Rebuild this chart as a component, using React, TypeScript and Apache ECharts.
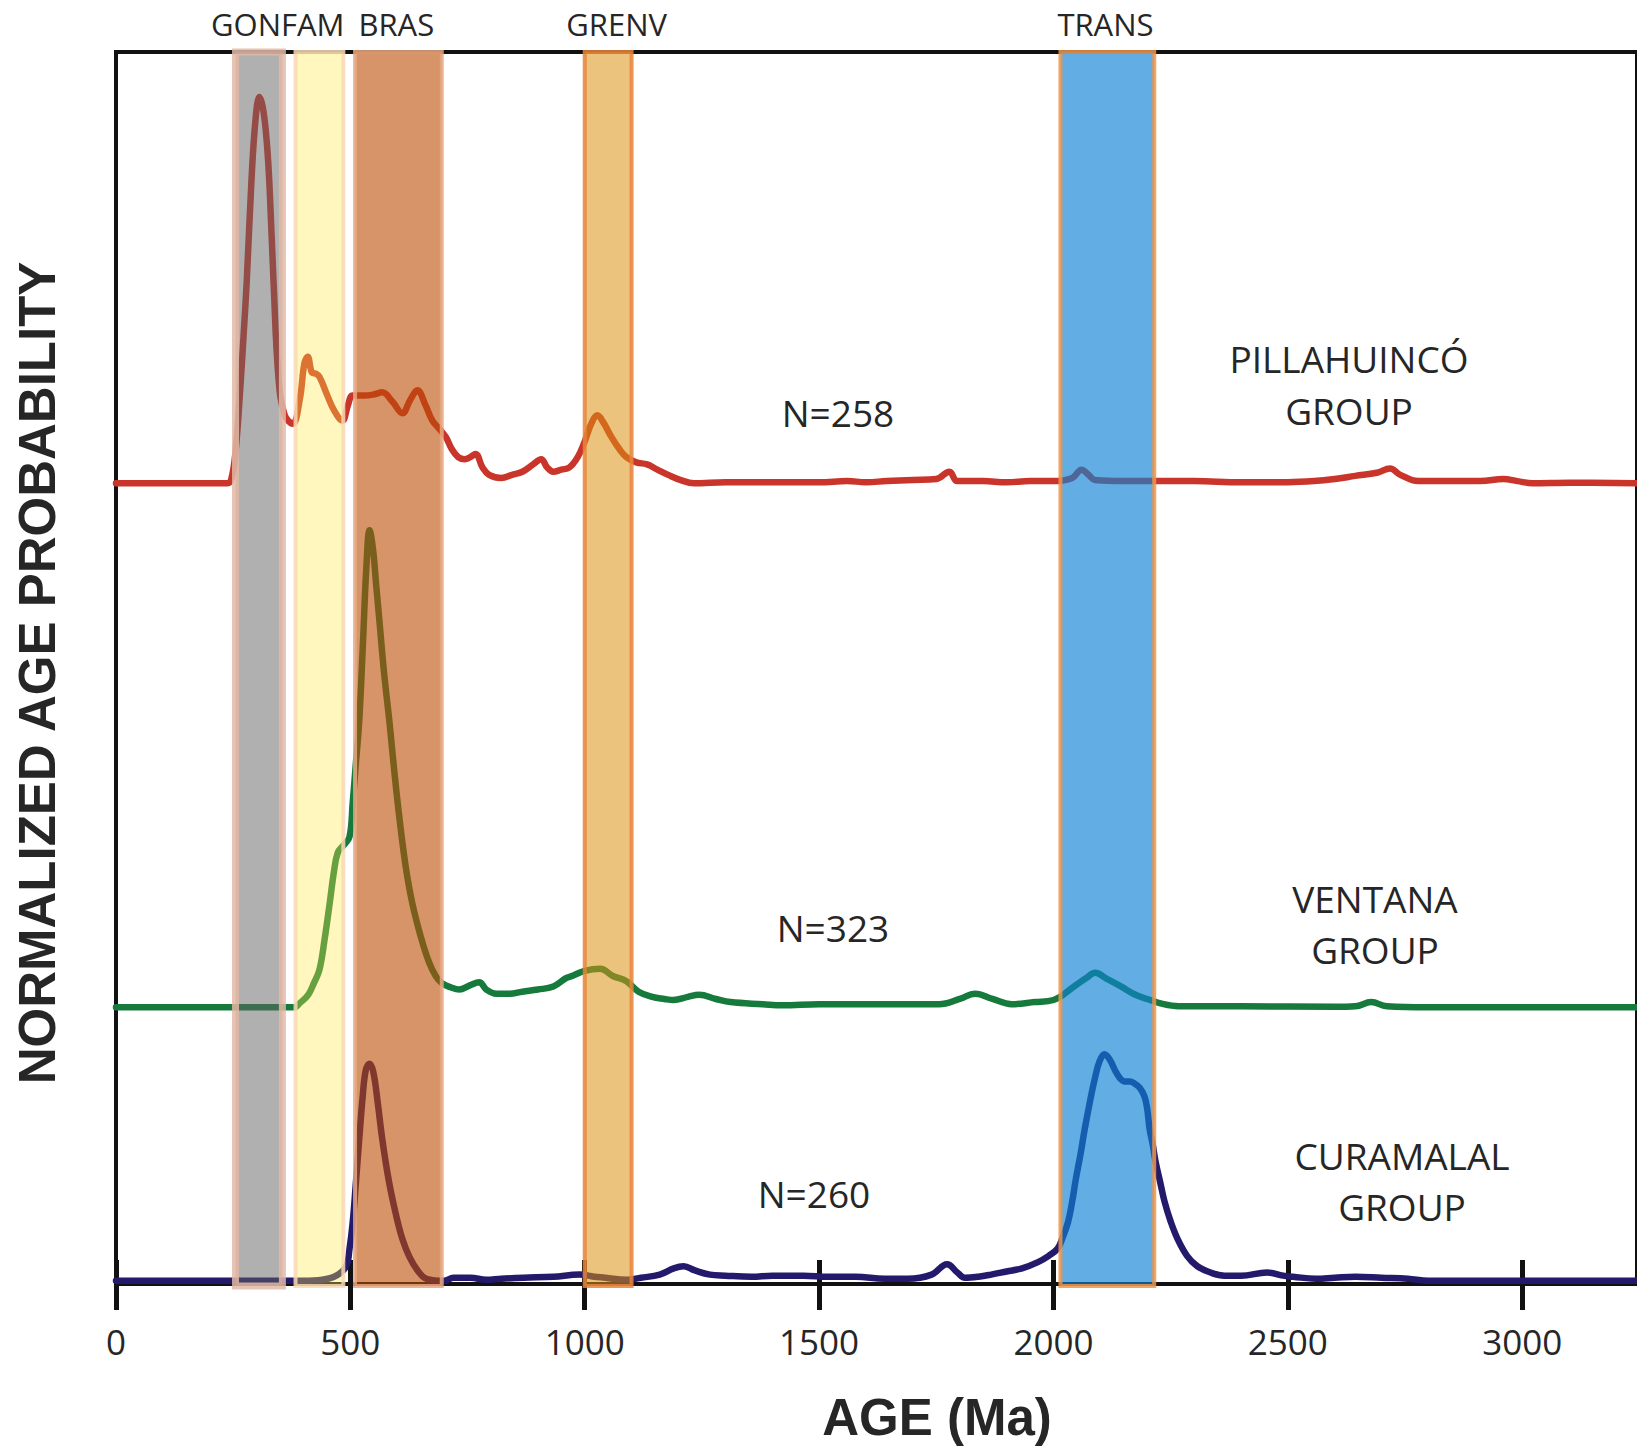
import React, { useEffect, useRef } from "react";
import * as echarts from "echarts";

// ---------- axis ----------
const AGE_MIN = 0;
const AGE_MAX = 3245;
const AGE_STEP = 500;
const PROB_MAX = 118;

// ---------- series: [age (Ma), relative probability] ----------
const pillahuinco: [number, number][] = [
  [0, 0], [238, 0], [246, 0.4], [255, 3], [265, 9], [272, 14], [279, 19.4], [289, 29],
  [298, 35], [306, 37], [314, 35.8], [322, 32.5], [328, 28], [336, 19.4], [347, 9.9],
  [360, 6.5], [377, 5.7], [392, 8], [402, 11.5], [409, 12.1], [418, 10.6], [426, 10.5],
  [434, 10.2], [450, 8.5], [465, 7], [483, 6.0], [495, 7.5], [505, 8.4], [530, 8.4],
  [550, 8.5], [568, 8.7], [590, 7.8], [611, 6.7], [628, 8], [643, 8.9], [660, 7.5],
  [675, 6.0], [690, 5.2], [704, 4.4], [716, 3.3], [730, 2.5], [744, 2.3], [756, 2.5],
  [767, 2.8], [782, 1.5], [796, 0.8], [822, 0.5], [845, 0.8], [867, 1.1], [890, 1.8],
  [907, 2.3], [920, 1.5], [933, 1.1], [950, 1.3], [967, 1.5], [985, 2.5], [1000, 4],
  [1015, 5.8], [1027, 6.5], [1040, 5.8], [1056, 4.5], [1075, 3.2], [1089, 2.5], [1110, 2.0],
  [1133, 1.8], [1155, 1.3], [1178, 0.8], [1205, 0.3], [1233, 0], [1300, 0.1], [1400, 0.1],
  [1500, 0.1], [1560, 0.2], [1600, 0.1], [1644, 0.2], [1700, 0.3], [1750, 0.4], [1778, 1.1],
  [1795, 0.2], [1850, 0.2], [1900, 0.1], [1950, 0.2], [2000, 0.2], [2040, 0.5], [2060, 1.3],
  [2075, 0.8], [2089, 0.3], [2150, 0.2], [2200, 0.2], [2300, 0.2], [2400, 0.1], [2500, 0.1],
  [2556, 0.2], [2600, 0.4], [2644, 0.7], [2690, 1.0], [2718, 1.4], [2740, 0.8], [2778, 0.2],
  [2850, 0.2], [2911, 0.2], [2960, 0.4], [2990, 0.2], [3022, 0], [3100, 0.05], [3245, 0],
];

const ventana: [number, number][] = [
  [0, 0], [380, 0], [392, 0.4], [410, 1.2], [422, 2.3], [434, 3.6], [445, 6.5], [456, 10],
  [465, 13], [473, 14.8], [485, 15.5], [498, 16.3], [505, 19.6], [512, 23.5], [519, 27.5],
  [527, 35], [534, 42], [541, 45.7], [548, 44], [555, 40.5], [562, 37], [572, 32], [583, 27.5],
  [594, 22.5], [605, 18], [618, 13.5], [632, 10], [650, 6.8], [668, 4.3], [682, 3.0],
  [696, 2.3], [715, 1.9], [732, 1.7], [755, 2.1], [775, 2.4], [790, 1.7], [811, 1.3],
  [840, 1.3], [867, 1.5], [900, 1.7], [933, 2.0], [960, 2.8], [973, 3.0], [1000, 3.5],
  [1033, 3.7], [1060, 3.0], [1089, 2.5], [1115, 1.5], [1144, 1.0], [1170, 0.8], [1189, 0.7],
  [1220, 1.0], [1244, 1.2], [1280, 0.8], [1311, 0.5], [1380, 0.3], [1422, 0.2], [1500, 0.3],
  [1600, 0.3], [1700, 0.3], [1756, 0.3], [1800, 0.8], [1833, 1.3], [1870, 0.8], [1911, 0.3],
  [1960, 0.5], [2000, 0.7], [2044, 2.0], [2070, 2.8], [2089, 3.3], [2115, 2.7], [2144, 2.0],
  [2175, 1.2], [2200, 0.8], [2235, 0.3], [2267, 0.1], [2400, 0.1], [2600, 0.05], [2644, 0.1],
  [2678, 0.5], [2711, 0.1], [2800, 0], [3245, 0],
];

const curamalal: [number, number][] = [
  [0, 0], [400, 0], [440, 0.1], [470, 0.5], [491, 1.4], [498, 3], [505, 5.6], [512, 9.5],
  [519, 13.6], [526, 17.5], [533, 20.2], [541, 20.8], [549, 20], [558, 17.2], [568, 13.6],
  [582, 9.6], [597, 6.4], [611, 4.0], [626, 2.3], [645, 0.9], [662, 0.2], [700, 0],
  [720, 0.3], [756, 0.3], [790, 0.1], [822, 0.2], [870, 0.3], [933, 0.4], [989, 0.6],
  [1020, 0.4], [1044, 0.3], [1089, 0.1], [1120, 0.3], [1160, 0.6], [1190, 1.2], [1211, 1.4],
  [1235, 1.0], [1267, 0.6], [1300, 0.5], [1356, 0.4], [1400, 0.5], [1467, 0.5], [1520, 0.4],
  [1578, 0.4], [1640, 0.2], [1689, 0.2], [1740, 0.6], [1773, 1.6], [1795, 0.8], [1811, 0.3],
  [1840, 0.4], [1867, 0.6], [1900, 0.9], [1933, 1.2], [1967, 1.8], [1990, 2.4], [2009, 3.1],
  [2020, 4.2], [2031, 5.6], [2040, 7.6], [2048, 9.8], [2058, 12.2], [2067, 14.6], [2078, 17.2],
  [2088, 19.3], [2098, 21], [2109, 21.7], [2120, 21.2], [2131, 20.2], [2142, 19.4],
  [2152, 19.1], [2163, 19.1], [2173, 18.9], [2184, 18.5], [2194, 17.7], [2200, 16.5],
  [2205, 14.6], [2212, 13], [2218, 11.4], [2228, 9.4], [2237, 7.6], [2250, 5.7], [2265, 4.0],
  [2285, 2.4], [2307, 1.4], [2335, 0.8], [2365, 0.5], [2400, 0.5], [2456, 0.8], [2490, 0.5],
  [2511, 0.4], [2560, 0.2], [2600, 0.3], [2644, 0.4], [2700, 0.3], [2756, 0.2], [2800, 0],
  [3245, 0],
];

// vertical offsets of each stacked curve (in probability units)
const groupNames = ["PILLAHUINCÓ GROUP", "VENTANA GROUP", "CURAMALAL GROUP"];
const groupOffsets = [76.7, 26.5, 0.3];
const groupCounts = ["N=258", "N=323", "N=260"];

// ---------- age bands ----------
const bandStart = [255, 383, 510, 1000, 2015];
const bandEnd = [355, 485, 695, 1100, 2215];
const bandLabelText = ["GONFAM", "BRAS", "GRENV", "TRANS"];
const bandLabelAge = [345, 598, 1068, 2111];

// ---------- styles ----------
const lineColors = ["#c9352a", "#167a3c", "#231a6b"];
const bandFill = ["#616161", "#ffe845", "#bc4d05", "#db9213", "#0e81d4"];
const bandAlpha = [0.5, 0.35, 0.6, 0.55, 0.65];
const bandStroke = ["#e2b8a6", "#f8d8b4", "#e8a880", "#e8843a", "#ef9448"];
const bandStrokeWidth = [7, 4, 4, 4, 4];
const TEXT = "#262626";
const SANS = "'Open Sans', 'DejaVu Sans', sans-serif";
const TITLE = "'Liberation Sans', Arial, sans-serif";

export default function App() {
  const ref = useRef<HTMLDivElement>(null);

  useEffect(() => {
    if (!ref.current) return;
    const chart = echarts.init(ref.current, undefined, { renderer: "svg" });

    const lineSeries = [pillahuinco, ventana, curamalal].map((d, i) => ({
      type: "line",
      name: groupNames[i],
      data: d.map(([a, p]) => [a, p + groupOffsets[i]]),
      showSymbol: false,
      smooth: 0.4,
      lineStyle: { color: lineColors[i], width: 6.5, cap: "round", join: "round" },
      z: 2,
      silent: true,
    }));

    const tickCommon = {
      type: "value",
      min: AGE_MIN,
      max: AGE_MAX,
      interval: AGE_STEP,
      position: "bottom",
      splitLine: { show: false },
    };

    const option: any = {
      animation: false,
      backgroundColor: "#ffffff",
      grid: {
        left: 116,
        right: -4,
        top: 52,
        bottom: 169,
        show: true,
        borderColor: "#111",
        borderWidth: 4,
        backgroundColor: "transparent",
      },
      xAxis: [
        {
          ...tickCommon,
          axisLine: { show: true, lineStyle: { color: "#111", width: 4 } },
          axisTick: { show: true, length: 26, lineStyle: { color: "#111", width: 5 } },
          axisLabel: {
            margin: 40,
            fontSize: 35,
            fontFamily: SANS,
            color: TEXT,
            showMaxLabel: false,
            formatter: (v: number) => (v % AGE_STEP === 0 ? String(v) : ""),
          },
        },
        {
          ...tickCommon,
          axisLine: { show: false },
          axisTick: { show: true, inside: true, length: 24, lineStyle: { color: "#111", width: 5 } },
          axisLabel: { show: false },
        },
      ],
      yAxis: { type: "value", min: 0, max: PROB_MAX, show: false },
      series: [
        ...lineSeries,
        {
          type: "custom",
          name: "bands",
          z: 5,
          silent: true,
          data: bandStart.map((s, i) => [s, bandEnd[i], i]),
          renderItem: (_p: any, api: any) => {
            const i = api.value(2);
            const p0 = api.coord([api.value(0), PROB_MAX]);
            const p1 = api.coord([api.value(1), 0]);
            return {
              type: "rect",
              shape: { x: p0[0], y: p0[1], width: p1[0] - p0[0], height: p1[1] - p0[1] + 2 },
              style: {
                fill: bandFill[i],
                fillOpacity: bandAlpha[i],
                stroke: bandStroke[i],
                strokeOpacity: 0.85,
                lineWidth: bandStrokeWidth[i],
              },
            };
          },
        },
        {
          type: "custom",
          name: "bandLabels",
          z: 6,
          silent: true,
          data: bandLabelAge.map((a, i) => [a, i]),
          renderItem: (_p: any, api: any) => {
            const i = api.value(1);
            const p = api.coord([api.value(0), PROB_MAX]);
            return {
              type: "text",
              x: p[0],
              y: p[1] - 28,
              style: {
                text: bandLabelText[i],
                fill: TEXT,
                fontSize: 31,
                fontFamily: SANS,
                align: "center",
                verticalAlign: "middle",
              },
            };
          },
        },
      ],
      graphic: [
        {
          type: "text",
          x: 37,
          y: 673,
          rotation: Math.PI / 2,
          style: {
            text: "NORMALIZED AGE PROBABILITY",
            fill: TEXT,
            fontSize: 51,
            fontWeight: "bold",
            fontFamily: TITLE,
            align: "center",
            verticalAlign: "middle",
          },
        },
        {
          type: "text",
          x: 937,
          y: 1417,
          style: {
            text: "AGE (Ma)",
            fill: TEXT,
            fontSize: 51,
            fontWeight: "bold",
            fontFamily: TITLE,
            align: "center",
            verticalAlign: "middle",
          },
        },
        ...[
          [838, 412, groupCounts[0]],
          [1349, 358, "PILLAHUINCÓ"],
          [1349, 410, "GROUP"],
          [833, 927, groupCounts[1]],
          [1375, 898, "VENTANA"],
          [1375, 949, "GROUP"],
          [814, 1193, groupCounts[2]],
          [1402, 1155, "CURAMALAL"],
          [1402, 1206, "GROUP"],
        ].map(([x, y, t]) => ({
          type: "text",
          x,
          y,
          z: 10,
          style: {
            text: t,
            fill: TEXT,
            fontSize: 37,
            fontFamily: SANS,
            align: "center",
            verticalAlign: "middle",
          },
        })),
      ],
    };

    chart.setOption(option);
    return () => chart.dispose();
  }, []);

  return (
    <div
      ref={ref}
      style={{ position: "absolute", left: 0, top: 0, width: 1637, height: 1453 }}
    />
  );
}
